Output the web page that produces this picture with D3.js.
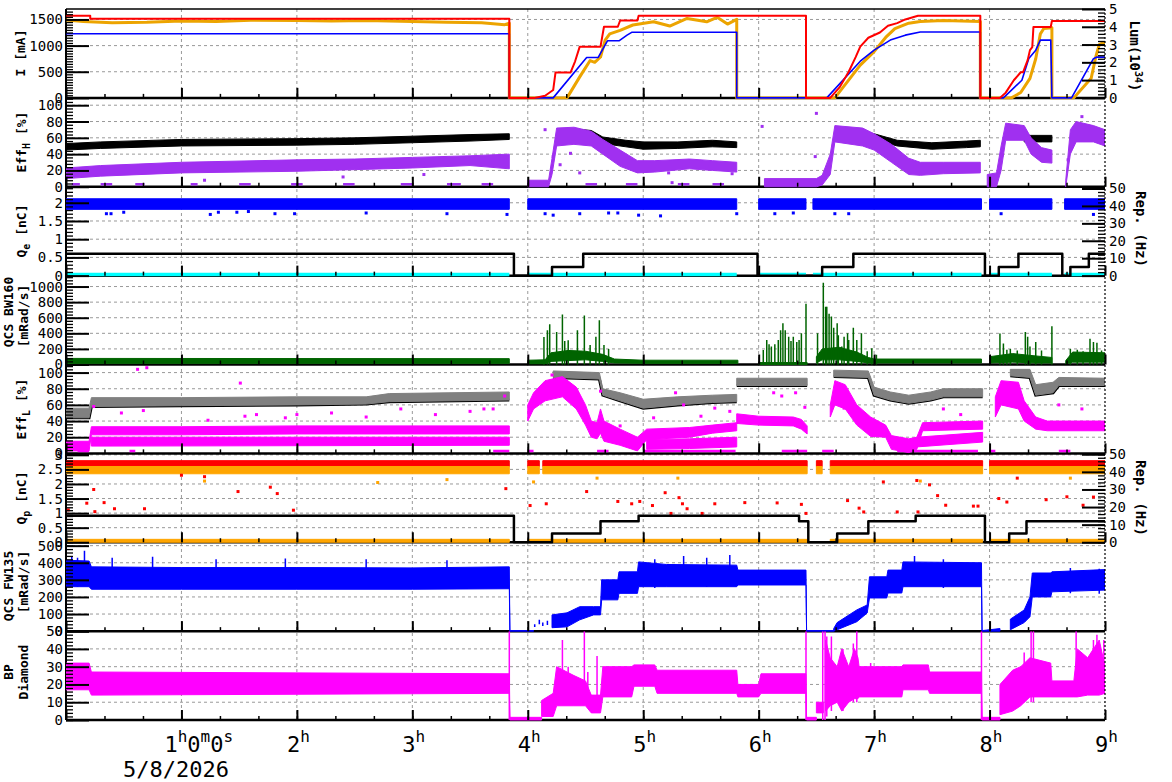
<!DOCTYPE html>
<html>
<head>
<meta charset="utf-8">
<script src="https://cdn.jsdelivr.net/npm/d3@7"></script>
<style>
  body { margin: 0; background: #fff; }
  text { font-family: "DejaVu Sans Mono", monospace; }
</style>
</head>
<body>
<svg id="chart" width="1172" height="782"></svg>
<script>
// ---- data, t in hours from start ----
const hourTicks = [1, 2, 3, 4, 5, 6, 7, 8, 9];
const dateLabel = "5/8/2026";

// panel 1: beam currents (mA) and luminosity (1e34)
const iTicks = [0, 500, 1000, 1500];
const lumTicks = [0, 1, 2, 3, 4, 5];
const lerCurrent = [[0,1570],[0.21,1570],[0.21,1515],[3.84,1515],[3.84,0],[4.06,0],[4.15,40],[4.22,150],[4.24,485],[4.37,485],[4.41,700],[4.45,980],[4.63,980],[4.66,1360],[4.78,1360],[4.8,1480],[4.95,1480],[4.96,1570],[6.41,1570],[6.41,0],[6.62,0],[6.7,200],[6.78,500],[6.84,780],[6.88,980],[6.95,1150],[7.05,1250],[7.12,1380],[7.2,1430],[7.27,1500],[7.38,1570],[7.92,1570],[7.92,0],[8.09,0],[8.14,100],[8.21,337],[8.27,490],[8.29,490],[8.33,721],[8.35,913],[8.37,971],[8.38,1356],[8.53,1356],[8.54,1471],[9,1471]];
const herCurrent = [[0,1227],[3.84,1227],[3.84,0],[4.22,0],[4.51,773],[4.61,773],[4.69,1092],[4.79,1092],[4.86,1200],[4.9,1254],[5.81,1254],[5.81,0],[6.59,0],[6.88,702],[7.0,913],[7.14,1105],[7.27,1200],[7.4,1260],[7.92,1260],[7.92,0],[8.12,0],[8.28,337],[8.34,754],[8.4,913],[8.44,1105],[8.53,1105],[8.54,0],[8.71,0],[8.9,750],[8.93,780],[9,780]];
const luminosity = [[0,4.38],[0.15,4.3],[0.4,4.22],[0.7,4.25],[1.0,4.33],[1.3,4.3],[1.6,4.37],[2.0,4.36],[2.3,4.32],[2.6,4.36],[3.0,4.3],[3.3,4.25],[3.6,4.22],[3.8,4.12],[3.84,4.2],[3.84,0],[4.34,0],[4.45,1.18],[4.54,2.1],[4.58,2.0],[4.63,2.3],[4.67,3.25],[4.71,3.6],[4.8,3.8],[4.91,4.1],[5.09,4.28],[5.23,4.04],[5.38,4.47],[5.55,4.28],[5.64,4.53],[5.73,4.15],[5.81,4.42],[5.81,0],[6.66,0],[6.88,1.84],[7.0,2.6],[7.1,3.4],[7.18,3.9],[7.3,4.2],[7.4,4.3],[7.6,4.35],[7.92,4.3],[7.92,0],[8.19,0],[8.27,0.3],[8.35,1.1],[8.4,2.2],[8.44,3.6],[8.47,3.9],[8.54,3.95],[8.54,0],[8.73,0],[8.88,1.1],[8.92,2.3],[8.95,3.0],[8.98,3.1],[9,3.1]];

// panel 2: Eff_H (%), bands [t, low, high]
const effTicks = [0, 20, 40, 60, 80, 100];
const effHBlack = [
  [[0,45,53],[0.3,47,55],[1,50,58],[2,51,59],[2.5,52,60],[3,54,62],[3.5,56,64],[3.84,58,65]],
  [[4.4,63,71],[4.55,62,69],[4.65,53,61],[4.85,49,57],[5.0,46,55],[5.3,47,55],[5.6,49,57],[5.81,48,55]],
  [[6.85,61,70],[7.0,58,65],[7.2,50,57],[7.5,46,54],[7.8,48,56],[7.92,49,57]],
  [[8.3,55,63],[8.54,55,63]],
  [[8.85,58,65],[9,58,65]]
];
const effHPurple = [
  [[0,10,23],[0.3,13,26],[1,17,30],[2,19,33],[2.5,21,34],[3,23,36],[3.5,26,38],[3.84,22,40]],
  [[4.0,0,8],[4.18,0,8],[4.21,15,35],[4.25,50,72],[4.4,52,73],[4.55,50,68],[4.65,40,58],[4.8,25,45],[4.95,17,32],[5.1,18,32],[5.4,22,34],[5.6,20,32],[5.81,18,30]],
  [[6.05,0,10],[6.5,0,10],[6.55,2,14],[6.62,15,40],[6.66,55,75],[6.9,50,72],[7.0,45,65],[7.15,30,52],[7.3,15,35],[7.4,14,30],[7.6,16,30],[7.92,17,30]],
  [[7.98,0,15],[8.06,0,17],[8.1,20,50],[8.14,57,78],[8.3,57,75],[8.36,40,60],[8.45,30,48],[8.54,29,45]],
  [[8.66,0,8],[8.7,40,70],[8.75,55,80],[8.9,55,75],[9,50,70]]
];
const effHPurpleDots = [[4.15,70],[4.22,37],[4.28,27],[4.37,41],[4.45,17],[5.25,5],[5.22,17],[5.77,16],[6.03,74],[6.5,90],[6.49,37],[8.8,86],[8.68,33],[8.11,39],[1.2,8],[2.4,12],[3.1,15]];
const effHZeroSpans = [[0.05,0.12],[0.3,0.4],[0.6,0.68],[1.08,1.14],[1.5,1.6],[1.95,2.05],[2.4,2.5],[2.9,3.0],[3.3,3.42],[3.6,3.7],[4.5,4.6],[4.85,4.95],[5.3,5.4],[5.6,5.7]];

// panel 3: Q_e (nC) and rep. rate (Hz)
const qeTicks = [0, 0.5, 1, 1.5, 2];
const repTicks = [0, 10, 20, 30, 40, 50];
const qeBand = [
  [[0,1.82,2.11],[3.84,1.82,2.11]],
  [[4.0,1.82,2.11],[5.81,1.82,2.11]],
  [[6.0,1.82,2.11],[6.41,1.82,2.11]],
  [[6.47,1.82,2.11],[7.93,1.82,2.11]],
  [[8.0,1.82,2.11],[8.54,1.82,2.11]],
  [[8.65,1.82,2.11],[9,1.82,2.11]]
];
const qeDots = [[0.35,1.7],[0.39,1.7],[0.5,1.74],[1.25,1.68],[1.32,1.74],[1.48,1.74],[1.58,1.76],[1.81,1.7],[1.98,1.7],[2.6,1.72],[3.3,1.7],[3.82,1.68],[4.15,1.7],[4.22,1.66],[4.45,1.7],[4.7,1.72],[4.78,1.72],[4.96,1.66],[5.15,1.64],[5.81,1.7],[6.14,1.7],[6.3,1.72],[6.66,1.7],[6.78,1.7],[8.1,1.7],[8.9,1.68]];
const qeBaseline = [
  [[0,0.03],[3.84,0.03]], [[4.0,0.03],[5.81,0.03]], [[6.0,0.03],[6.41,0.03]],
  [[6.47,0.03],[7.93,0.03]], [[8.0,0.03],[8.54,0.03]], [[8.65,0.03],[9,0.03]]
];
const repRateE = [[0,12.5],[3.88,12.5],[3.88,0],[4.21,0],[4.21,5],[4.48,5],[4.48,12.5],[5.99,12.5],[5.99,0],[6.55,0],[6.55,5],[6.82,5],[6.82,12.5],[7.96,12.5],[7.96,0],[8.08,0],[8.08,5],[8.25,5],[8.25,12.5],[8.63,12.5],[8.63,0],[8.7,0],[8.7,5],[8.86,5],[8.86,12.5],[9,12.5]];

// panel 4: QCS BW160 (mRad/s)
const bwTicks = [0, 200, 400, 600, 800, 1000];
const bw160Band = [
  [[0,15,78],[3.84,15,75]],
  [[4.0,10,55],[4.15,10,60],[4.2,40,150],[4.35,50,180],[4.5,60,170],[4.65,40,130],[4.75,20,70],[5.0,15,55],[5.82,15,55]],
  [[6.0,0,25],[6.42,0,25]],
  [[6.5,20,100],[6.55,60,200],[6.7,60,220],[6.85,40,160],[6.95,20,90],[7.0,20,70],[7.93,20,70]],
  [[8.0,20,100],[8.2,30,140],[8.4,20,110],[8.54,20,90]],
  [[8.66,10,50],[8.72,30,160],[9,30,150]]
];
const bw160Spikes = [[4.14,354],[4.17,440],[4.19,515],[4.25,418],[4.3,640],[4.32,300],[4.35,310],[4.43,440],[4.49,630],[4.54,250],[4.59,355],[4.62,567],[4.66,250],[4.7,200],
  [6.04,185],[6.07,315],[6.09,260],[6.11,230],[6.14,260],[6.17,315],[6.19,440],[6.21,528],[6.23,440],[6.26,355],[6.28,300],[6.3,355],[6.33,290],[6.35,315],[6.37,400],[6.41,780],[6.51,400],
  [6.56,1050],[6.58,740],[6.59,740],[6.61,650],[6.63,615],[6.65,470],[6.68,530],[6.69,375],[6.72,230],[6.74,355],[6.77,400],[6.78,315],[6.82,470],[6.85,315],[6.89,400],[6.94,170],[6.98,210],[7.02,125],
  [8.09,397],[8.12,270],[8.15,190],[8.18,200],[8.24,180],[8.31,418],[8.33,355],[8.35,230],[8.4,290],[8.45,180],[8.54,490],
  [8.7,200],[8.76,190],[8.81,170],[8.87,330],[8.9,290],[8.93,280],[8.97,180]];

// panel 5: Eff_L (%)
const effLGray = [
  [[0,44,56],[0.2,44,56],[0.22,58,69],[1,59,69],[2,60,70],[2.6,61,70],[2.8,64,74],[3.84,66,76]],
  [[4.22,94,102],[4.62,92,100],[4.65,72,80],[4.8,65,75],[5.0,56,67],[5.3,60,70],[5.6,63,72],[5.81,64,73]],
  [[5.81,84,93],[6.42,84,93]],
  [[6.65,95,103],[6.95,94,102],[7.0,72,82],[7.14,66,76],[7.3,62,72],[7.49,66,76],[7.6,70,80],[7.94,70,80]],
  [[8.18,96,104],[8.35,94,104],[8.4,72,85],[8.55,75,88],[8.6,84,94],[9,84,93]]
];
const effLMagA = [
  [[0,3,15],[0.2,3,15],[0.22,23,33],[1,23,33],[2,24,34],[3,24,34],[3.84,24,34]],
  [[4.0,40,60],[4.05,55,75],[4.15,65,90],[4.3,70,95],[4.42,55,82],[4.5,35,60],[4.55,20,40],[4.6,18,38],[4.63,25,55],[4.66,15,40],[4.8,10,30],[4.95,3,20],[5.03,17,30],[5.4,20,32],[5.6,25,35],[5.81,28,38]],
  [[5.81,37,49],[6.0,35,46],[6.3,34,45],[6.37,30,42],[6.42,24,34]],
  [[6.62,45,60],[6.66,60,90],[6.75,55,85],[6.85,35,60],[6.97,21,45],[7.1,20,35],[7.15,5,22],[7.3,1,18],[7.37,5,20],[7.42,28,38],[7.94,30,40]],
  [[8.05,45,70],[8.1,60,90],[8.25,55,88],[8.3,40,65],[8.4,30,45],[8.5,28,40],[9,28,40]]
];
const effLMagB = [
  [[0.22,9,20],[3.84,10,20]],
  [[5.03,5,17],[5.4,6,18],[5.81,8,20]],
  [[7.37,8,20],[7.94,14,26]]
];
const effLMagDots = [[0.24,58],[0.48,50],[0.67,53],[0.62,104],[0.7,106],[1.23,41],[1.51,87],[1.55,46],[1.65,48],[1.9,44],[2.0,48],[2.3,50],[2.6,45],[2.9,55],[3.2,48],[3.5,52],[3.62,55],[3.7,55],[3.8,71],[4.21,97],[4.5,51],[4.63,77],[4.8,34],[5.09,44],[5.28,75],[5.35,60],[5.5,46],[5.62,56],[5.75,52],[6.13,75],[6.2,71],[6.32,75],[6.4,57],[6.74,56],[7.6,55],[7.75,48],[8.6,60],[8.8,55]];
const effLZeroSpans = [[0.1,0.2],[0.55,0.6],[3.7,3.84],[4.0,4.05],[4.6,4.7],[5.0,5.8],[6.2,6.42],[6.55,6.65],[7.2,7.9],[8.0,8.05],[8.6,8.7]];

// panel 6: Q_p (nC) and rep. rate (Hz)
const qpTicks = [0, 0.5, 1, 1.5, 2, 2.5, 3];
const qpSpans = [[0,3.84],[4.0,4.1],[4.13,6.42],[6.5,6.55],[6.62,7.94],[8.0,9]];
const qpRedLevel = [2.6, 2.8];
const qpOrangeLevel = [2.35, 2.6];
const qpLowSpans = [[0,3.84],[4.0,6.42],[6.62,7.94],[8.0,9]];
const qpLowLevel = [0.0, 0.1];
const qpRedDots = [[0.02,1.11],[0.18,1.34],[0.24,1.81],[0.25,1.05],[0.33,1.36],[0.42,1.15],[0.68,1.15],[1.0,2.3],[1.2,2.25],[1.49,1.74],[1.77,1.89],[1.83,1.67],[1.97,1.1],[3.81,1.84],[4.02,1.26],[4.16,1.32],[4.51,1.74],[4.78,1.4],[4.9,1.32],[4.97,1.4],[5.08,1.26],[5.19,1.7],[5.24,0.99],[5.31,1.53],[5.34,1.32],[5.38,1.15],[5.51,0.99],[5.62,1.32],[5.88,1.36],[6.16,1.35],[6.37,1.3],[6.41,0.99],[6.77,1.43],[6.87,1.17],[6.91,1.04],[7.08,2.07],[7.2,1.04],[7.37,2.12],[7.38,1.04],[7.48,1.97],[7.55,1.6],[7.62,1.27],[7.86,1.24],[7.9,1.24],[8.08,1.5],[8.15,1.38],[8.24,2.2],[8.49,1.46],[8.67,1.56],[8.81,1.27],[8.9,1.55]];
const qpOrangeDots = [[1.2,2.1],[2.7,2.05],[3.3,2.15],[4.05,2.07],[4.6,2.2],[5.3,2.2],[7.4,2.1],[8.7,2.2]];
const repRateP = [[0,15],[3.88,15],[3.88,0],[4.21,0],[4.21,5],[4.63,5],[4.63,12],[4.96,12],[4.96,15],[6.35,15],[6.35,12],[6.43,12],[6.43,0],[6.68,0],[6.68,5],[6.95,5],[6.95,12],[7.36,12],[7.36,15],[7.96,15],[7.96,0],[8.17,0],[8.17,5],[8.32,5],[8.32,12],[9,12]];

// panel 7: QCS FW135 (mRad/s)
const fwTicks = [0, 100, 200, 300, 400, 500];
const fw135Band = [
  [[0,260,415],[0.2,260,410],[0.22,245,376],[1,245,372],[2,245,372],[3,245,370],[3.84,248,376],[3.845,0,3],[4.05,0,3]],
  [[4.21,20,95],[4.34,25,107],[4.45,66,143],[4.57,95,143],[4.63,95,143],[4.64,183,300],[4.78,183,300],[4.79,221,347],[4.95,221,347],[4.96,260,405],[5.2,260,390],[5.81,260,386],[5.82,270,357],[6.41,270,357],[6.415,0,3],[6.65,0,3]],
  [[6.65,0,15],[6.68,8,50],[6.85,55,124],[6.94,106,153],[6.96,194,318],[7.11,194,318],[7.12,223,357],[7.24,223,357],[7.25,260,405],[7.93,260,400],[7.935,0,3],[8.09,0,15]],
  [[8.18,8,70],[8.3,50,124],[8.35,84,200],[8.37,200,340],[8.53,200,340],[8.54,230,347],[9,240,360]]
];
const fw135Spikes = [[0.05,440],[0.1,430],[0.16,470],[0.4,430],[0.75,435],[1.3,420],[1.9,425],[2.6,420],[3.3,415],[4.06,40],[4.1,66],[4.13,50],[4.17,60],[5.1,420],[5.35,440],[5.55,430],[5.75,445],[7.35,440],[7.6,420],[8.7,370],[8.95,365]];

// panel 8: BP Diamond
const bpTicks = [0, 10, 20, 30, 40, 50];
const diamondBand = [
  [[0,17,32],[0.2,17,32],[0.22,14,27],[3.84,15,26],[3.845,0,1.5],[4.12,0,1.5]],
  [[4.12,2,11],[4.22,2,15],[4.25,8,30],[4.4,8,25],[4.5,8,22],[4.55,4,14],[4.63,4,14],[4.65,13,30],[4.9,13,30],[4.92,19,31],[5.1,19,31],[5.12,15,28],[5.81,15,28],[5.82,13,20],[6.0,13,20],[6.02,15,26],[6.41,15,26],[6.415,0,1.5],[6.5,0,1.5]],
  [[6.5,4,10],[6.56,4,10]],
  [[6.58,5,45],[6.62,8,35],[6.68,10,30],[6.72,5,40],[6.78,10,30],[6.83,12,40],[6.86,12,35],[6.87,13,30],[7.24,13,30],[7.25,17,31],[7.47,17,31],[7.48,15,27],[7.93,15,27],[7.935,0,1.5],[8.09,0,1.5]],
  [[8.09,3,20],[8.2,5,28],[8.27,8,30],[8.35,13,35],[8.53,13,32],[8.54,13,22],[8.73,13,22],[8.76,13,40],[8.85,14,35],[8.95,14,45],[9,15,30]]
];
const diamondSpikes = [[3.84,0,50],[4.3,15,45],[4.35,10,30],[4.49,10,50],[4.52,10,27],[4.6,8,36],[6.41,0,50],[6.555,0,50],[6.575,0,50],[6.59,2,47],[6.63,5,47],[6.73,5,40],[6.82,10,43],[6.85,10,50],[6.97,15,32],[7.93,0,50],[8.3,10,38],[8.36,10,50],[8.38,10,50],[8.75,13,50],[8.9,14,45],[8.93,14,48],[8.99,15,45]];

// ---- layout ----
const svg = d3.select("#chart");
const xL = 66, xR = 1105, top0 = 9, ph = 88.875;
const x = d3.scaleLinear().domain([0, 9]).range([xL, xR]);
const fmt = d3.format("~g");

const panels = [
  { dom: [0, 1700], ticks: iTicks, minor: 50, rdom: [0, 5], rticks: lumTicks, rminor: 0.2 },
  { dom: [0, 109], ticks: effTicks, minor: 4 },
  { dom: [0, 2.44], ticks: qeTicks, minor: 0.1, rdom: [0, 51], rticks: repTicks, rminor: 2 },
  { dom: [0, 1140], ticks: bwTicks, minor: 40 },
  { dom: [0, 110], ticks: effTicks, minor: 4 },
  { dom: [0, 3.05], ticks: qpTicks, minor: 0.1, rdom: [0, 50.5], rticks: repTicks, rminor: 2 },
  { dom: [0, 520], ticks: fwTicks, minor: 20 },
  { dom: [0, 50], ticks: bpTicks, minor: 2 }
];

const defs = svg.append("defs");
const gGrid = svg.append("g");
const gFrame = svg.append("g");
const gData = svg.append("g");
const gAxes = svg.append("g");

panels.forEach((p, i) => {
  p.top = top0 + i * ph;
  p.bot = p.top + ph;
  p.y = d3.scaleLinear().domain(p.dom).range([p.bot, p.top]);
  if (p.rdom) p.yr = d3.scaleLinear().domain(p.rdom).range([p.bot, p.top]);
  defs.append("clipPath").attr("id", "clip" + i)
    .append("rect").attr("x", xL).attr("y", p.top).attr("width", xR - xL).attr("height", ph + 1.5);
  p.g = gData.append("g").attr("clip-path", "url(#clip" + i + ")");

  // horizontal grid
  gGrid.selectAll(null).data(p.ticks.filter(v => v > 0 && v < p.dom[1])).enter()
    .append("line")
    .attr("x1", xL).attr("x2", xR)
    .attr("y1", d => p.y(d)).attr("y2", d => p.y(d))
    .attr("stroke", "#999").attr("stroke-dasharray", "3,3");

  // panel bottom line
  gFrame.append("line").attr("x1", xL).attr("x2", xR).attr("y1", p.bot).attr("y2", p.bot)
    .attr("stroke", "#000").attr("stroke-width", 2.5);

  // left axis
  const la = gAxes.append("g").attr("transform", "translate(" + xL + ",0)")
    .call(d3.axisLeft(p.y).tickValues(p.ticks).tickSize(-23).tickPadding(3).tickFormat(fmt));
  styleAxis(la, 2);
  const lm = gAxes.append("g").attr("transform", "translate(" + xL + ",0)")
    .call(d3.axisLeft(p.y).tickValues(d3.range(p.dom[0], p.dom[1], p.minor)).tickSize(-7).tickFormat(""));
  styleAxis(lm, 1.3);

  if (p.rdom) {
    const ra = gAxes.append("g").attr("transform", "translate(" + xR + ",0)")
      .call(d3.axisRight(p.yr).tickValues(p.rticks).tickSize(-23).tickPadding(4).tickFormat(fmt));
    styleAxis(ra, 2);
    const rm = gAxes.append("g").attr("transform", "translate(" + xR + ",0)")
      .call(d3.axisRight(p.yr).tickValues(d3.range(p.rdom[0], p.rdom[1], p.rminor)).tickSize(-7).tickFormat(""));
    styleAxis(rm, 1.3);
  }

  // time ticks at bottom of each panel
  const bt = gAxes.append("g").attr("transform", "translate(0," + p.bot + ")")
    .call(d3.axisBottom(x).tickValues(d3.range(0, 9.01, 1)).tickSize(-10).tickFormat(""));
  styleAxis(bt, 2);
  const bm = gAxes.append("g").attr("transform", "translate(0," + p.bot + ")")
    .call(d3.axisBottom(x).tickValues(d3.range(1 / 3, 9, 1 / 3)).tickSize(-4).tickFormat(""));
  styleAxis(bm, 1.5);
});

function styleAxis(g, w) {
  g.select(".domain").remove();
  g.attr("font-family", "DejaVu Sans Mono").attr("font-size", 14);
  g.selectAll("line").attr("stroke", "#000").attr("stroke-width", w);
  g.selectAll("text").attr("fill", "#000");
}

// vertical grid
gGrid.selectAll(null).data(hourTicks.filter(h => h < 9)).enter().append("line")
  .attr("x1", d => x(d)).attr("x2", d => x(d))
  .attr("y1", top0).attr("y2", top0 + 8 * ph)
  .attr("stroke", "#999").attr("stroke-dasharray", "3,3");

// frame
gFrame.append("line").attr("x1", xL).attr("x2", xR).attr("y1", top0).attr("y2", top0)
  .attr("stroke", "#000").attr("stroke-width", 1.5);
gFrame.append("line").attr("x1", xL).attr("x2", xL).attr("y1", top0).attr("y2", top0 + 8 * ph)
  .attr("stroke", "#000").attr("stroke-width", 2);
gAxes.append("line").attr("x1", xR).attr("x2", xR).attr("y1", top0).attr("y2", top0 + 8 * ph)
  .attr("stroke", "#000").attr("stroke-width", 1.2).attr("stroke-dasharray", "2,2");

// ---- drawing helpers ----
function band(p, segs, color, key) {
  const y = p[key || "y"];
  const area = d3.area().x(d => x(d[0])).y0(d => y(d[1])).y1(d => y(d[2]));
  p.g.selectAll(null).data(segs).enter().append("path")
    .attr("d", area).attr("fill", color).attr("stroke", color).attr("stroke-width", 1);
}
function edge(p, segs, color, w) {
  const line = d3.line().x(d => x(d[0])).y(d => p.y(d[1]));
  p.g.selectAll(null).data(segs).enter().append("path")
    .attr("d", line).attr("fill", "none").attr("stroke", color).attr("stroke-width", w);
}
function trace(p, pts, color, w, key) {
  const y = p[key || "y"];
  const line = d3.line().x(d => x(d[0])).y(d => y(d[1]));
  p.g.append("path").attr("d", line(pts)).attr("fill", "none")
    .attr("stroke", color).attr("stroke-width", w).attr("stroke-linejoin", "round");
}
function spikes(p, pts, color, w) {
  p.g.selectAll(null).data(pts).enter().append("line")
    .attr("x1", d => x(d[0])).attr("x2", d => x(d[0]))
    .attr("y1", d => p.y(d.length > 2 ? d[1] : 0)).attr("y2", d => p.y(d.length > 2 ? d[2] : d[1]))
    .attr("stroke", color).attr("stroke-width", w);
}
function dots(p, pts, color, s) {
  p.g.selectAll(null).data(pts).enter().append("rect")
    .attr("x", d => x(d[0]) - s / 2).attr("y", d => p.y(d[1]) - s / 2)
    .attr("width", s).attr("height", s).attr("fill", color);
}
function dashes(p, list, color) {
  p.g.selectAll(null).data(list).enter().append("line")
    .attr("x1", d => x(d[0])).attr("x2", d => x(d[1]))
    .attr("y1", p.bot - 2.5).attr("y2", p.bot - 2.5)
    .attr("stroke", color).attr("stroke-width", 2.5);
}
function spans(list, level) {
  return list.map(s => [[s[0], level[0], level[1]], [s[1], level[0], level[1]]]);
}

// ---- series ----
const P = panels;
trace(P[0], luminosity, "#eca400", 3, "yr");
trace(P[0], herCurrent, "#0000ff", 1.6);
trace(P[0], lerCurrent, "#ff0000", 2);

band(P[1], effHBlack, "#000");
band(P[1], effHPurple, "#a030f0");
dots(P[1], effHPurpleDots, "#a030f0", 3);
dashes(P[1], effHZeroSpans, "#a030f0");

band(P[2], qeBand, "#0000ff");
dots(P[2], qeDots, "#0000ff", 3);
qeBaseline.forEach(s => trace(P[2], s, "#00ffff", 3.5));
trace(P[2], repRateE, "#000", 2.5, "yr");

band(P[3], bw160Band, "#006400");
spikes(P[3], bw160Spikes, "#006400", 1.5);

edge(P[4], effLGray.map(s => s.map(d => [d[0], d[1]])), "#000", 3);
band(P[4], effLGray, "#808080");
band(P[4], effLMagA, "#ff00ff");
band(P[4], effLMagB, "#ff00ff");
dots(P[4], effLMagDots, "#ff00ff", 3);
dashes(P[4], effLZeroSpans, "#ff00ff");

band(P[5], spans(qpSpans, qpRedLevel), "#ff0000");
band(P[5], spans(qpSpans, qpOrangeLevel), "#ffa500");
band(P[5], spans(qpLowSpans, qpLowLevel), "#ffa500");
dots(P[5], qpRedDots, "#ff0000", 3);
dots(P[5], qpOrangeDots, "#ffa500", 3);
trace(P[5], repRateP, "#000", 2.5, "yr");

band(P[6], fw135Band, "#0000ff");
spikes(P[6], fw135Spikes.map(d => [d[0], d[1] * 0.6, d[1]]), "#0000ff", 1.5);

band(P[7], diamondBand, "#ff00ff");
spikes(P[7], diamondSpikes, "#ff00ff", 1.5);

// ---- axis titles ----
function title(xp, yp, rot, parts, size) {
  const t = svg.append("text")
    .attr("transform", "translate(" + xp + "," + yp + ") rotate(" + rot + ")")
    .attr("text-anchor", "middle").attr("font-size", size || 13).attr("font-weight", "bold");
  parts.forEach(pt => {
    const s = t.append("tspan").text(pt[0]);
    if (pt[1] === "sub") s.attr("font-size", 10).attr("dy", 4);
    if (pt[1] === "sup") s.attr("font-size", 10).attr("dy", -5);
    if (pt[1] === "back") s.attr("dy", pt[2]);
  });
}
title(25, 53, -90, [["I [mA]"]]);
title(26, 142, -90, [["Eff"], ["H", "sub"], [" [%]", "back", -4]]);
title(26, 231, -90, [["Q"], ["e", "sub"], [" [nC]", "back", -4]]);
title(13, 312, -90, [["QCS BW160"]]);
title(28, 316, -90, [["[mRad/s]"]]);
title(26, 409, -90, [["Eff"], ["L", "sub"], [" [%]", "back", -4]]);
title(26, 498, -90, [["Q"], ["p", "sub"], [" [nC]", "back", -4]]);
title(13, 586, -90, [["QCS FW135"]]);
title(28, 582, -90, [["[mRad/s]"]]);
title(13, 672, -90, [["BP"]]);
title(28, 672, -90, [["Diamond"]]);
title(1130, 56, 90, [["Lum(10"], ["34", "sup"], [")", "back", 5]], 14);
title(1136, 229, 90, [["Rep. (Hz)"]], 14);
title(1136, 498, 90, [["Rep. (Hz)"]], 14);

// ---- time labels ----
hourTicks.forEach(h => {
  const t = svg.append("text").attr("x", x(h) - (h === 1 ? 17 : 10)).attr("y", 752).attr("font-size", 22);
  const parts = h === 1 ? [["1", ""], ["h", "s"], ["0", ""], ["m", "s"], ["0", ""], ["s", "s"]] : [[String(h), ""], ["h", "s"]];
  let up = false;
  parts.forEach(pt => {
    const s = t.append("tspan").text(pt[0]);
    if (pt[1] === "s") { s.attr("font-size", 16).attr("dy", -10); up = true; }
    else if (up) { s.attr("dy", 10); up = false; }
  });
});
svg.append("text").attr("x", 123).attr("y", 777).attr("font-size", 22).text(dateLabel);
</script>
</body>
</html>
